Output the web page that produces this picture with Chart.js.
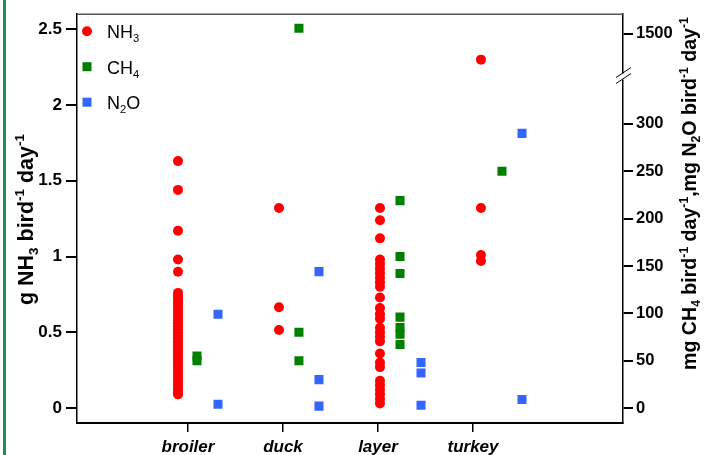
<!DOCTYPE html>
<html>
<head>
<meta charset="utf-8">
<script src="https://cdn.jsdelivr.net/npm/chart.js@4.4.1/dist/chart.umd.min.js"></script>
<style>
  html, body { margin: 0; padding: 0; background: #fff; }
  #wrap { position: relative; width: 708px; height: 455px; }
</style>
</head>
<body>
<div id="wrap"><canvas id="chart"></canvas></div>
<script>
// Categories and tick labels
const categories = ['broiler', 'duck', 'layer', 'turkey'];
const leftTicks = [0, 0.5, 1, 1.5, 2, 2.5];
const rightTicks = [0, 50, 100, 150, 200, 250, 300, 1500];

// x position of each series within a category (category n sits at x = n)
const xNH3 = [0.895, 1.958, 3.021, 4.084];
const xCH4 = [1.095, 2.168, 3.232, 4.305];
const xN2O = [1.316, 2.379, 3.453, 4.516];

// NH3, g per bird per day (left axis)
const nh3Broiler = [1.63, 1.44, 1.17, 0.98, 0.90, 0.76, 0.74, 0.72, 0.70, 0.68, 0.66, 0.64, 0.62,
  0.60, 0.58, 0.56, 0.54, 0.52, 0.50, 0.48, 0.46, 0.44, 0.42, 0.40, 0.38, 0.36, 0.34, 0.32,
  0.30, 0.28, 0.26, 0.24, 0.22, 0.20, 0.18, 0.16, 0.14, 0.12, 0.10, 0.09];
const nh3Duck = [1.32, 0.665, 0.515];
const nh3Layer = [1.32, 1.24, 1.12, 0.98, 0.95, 0.92, 0.89, 0.86, 0.83, 0.80, 0.73, 0.66, 0.62,
  0.59, 0.53, 0.50, 0.47, 0.44, 0.36, 0.30, 0.27, 0.18, 0.15, 0.12, 0.09, 0.06, 0.03];
const nh3Turkey = [2.30, 1.32, 1.01, 0.97];

// CH4, mg per bird per day (right axis)
const ch4Broiler = [55, 50];
const ch4Duck = [1550, 80, 50];
const ch4Layer = [219, 160, 142, 96, 85, 78, 67];
const ch4Turkey = [250];

// N2O, mg per bird per day (right axis)
const n2oBroiler = [99, 4];
const n2oDuck = [144, 30, 2];
const n2oLayer = [48, 37, 3];
const n2oTurkey = [290, 9];

const FONT = 'Arial, "Liberation Sans", Helvetica, sans-serif';
const RED = '#ff0000';
const GREEN = '#008000';
const BLUE = '#3366ff';

// right axis has a break between 300 and 1500
const BREAK_TOP = 300;
const BREAK_VALUE = 1500;
const BREAK_POS = 395;
const BREAK_SLOPE = 0.12;
function toRightAxis(v) {
  return v <= BREAK_TOP ? v : BREAK_POS + (v - BREAK_VALUE) * BREAK_SLOPE;
}

function points(xs, groups, mapY) {
  const out = [];
  groups.forEach((vals, i) => {
    vals.forEach(v => out.push({ x: xs[i], y: mapY ? mapY(v) : v }));
  });
  return out;
}

function setFont(ctx, size, weight) {
  ctx.font = `${weight} ${size}px ${FONT}`;
}

// text with sub/superscripts
function richText(ctx, parts, x, y, size, weight, align) {
  const small = size * 0.62;
  let total = 0;
  const widths = parts.map(p => {
    setFont(ctx, p.sub || p.sup ? small : size, weight);
    const w = ctx.measureText(p.t).width;
    total += w;
    return w;
  });
  let cx = align === 'center' ? x - total / 2 : x;
  ctx.textAlign = 'left';
  ctx.textBaseline = 'alphabetic';
  parts.forEach((p, i) => {
    setFont(ctx, p.sub || p.sup ? small : size, weight);
    const dy = p.sub ? size * 0.22 : (p.sup ? -size * 0.4 : 0);
    ctx.fillText(p.t, cx, y + dy);
    cx += widths[i];
  });
}

const leftTitle = [{ t: 'g NH' }, { t: '3', sub: true }, { t: ' bird' }, { t: '-1', sup: true },
  { t: ' day' }, { t: '-1', sup: true }];
const rightTitle = [{ t: 'mg CH' }, { t: '4', sub: true }, { t: ' bird' }, { t: '-1', sup: true },
  { t: ' day' }, { t: '-1', sup: true }, { t: ',mg N' }, { t: '2', sub: true }, { t: 'O bird' },
  { t: '-1', sup: true }, { t: ' day' }, { t: '-1', sup: true }];
const legendItems = [
  [{ t: 'NH' }, { t: '3', sub: true }],
  [{ t: 'CH' }, { t: '4', sub: true }],
  [{ t: 'N' }, { t: '2', sub: true }, { t: 'O' }]
];

const decorPlugin = {
  id: 'decor',
  beforeDraw(chart) {
    const ctx = chart.ctx;
    ctx.save();
    ctx.fillStyle = '#fff';
    ctx.fillRect(0, 0, chart.width, chart.height);
    ctx.restore();
  },
  afterDraw(chart) {
    const ctx = chart.ctx;
    const area = chart.chartArea;
    ctx.save();

    // green bar at the left edge
    ctx.fillStyle = '#23894f';
    ctx.fillRect(3, 0, 3, chart.height);

    // top frame line
    ctx.strokeStyle = '#555';
    ctx.lineWidth = 1.5;
    ctx.beginPath();
    ctx.moveTo(area.left, area.top);
    ctx.lineTo(area.right, area.top);
    ctx.stroke();

    // axis break on the right axis
    const yb = chart.scales.y2.getPixelForValue(350);
    const r = area.right;
    ctx.fillStyle = '#fff';
    ctx.fillRect(r - 3, yb - 3, 6, 6);
    ctx.strokeStyle = '#000';
    ctx.lineWidth = 1;
    ctx.beginPath();
    ctx.moveTo(r - 7, yb + 1); ctx.lineTo(r + 8, yb - 9);
    ctx.moveTo(r - 7, yb + 7); ctx.lineTo(r + 8, yb - 3);
    ctx.stroke();

    // legend
    const ds = chart.data.datasets;
    legendItems.forEach((parts, i) => {
      const cy = area.top + 17 + i * 35.5;
      const cx = area.left + 10;
      ctx.fillStyle = ds[i].backgroundColor;
      if (ds[i].pointStyle === 'circle') {
        ctx.beginPath();
        ctx.arc(cx, cy, 5, 0, Math.PI * 2);
        ctx.fill();
      } else {
        ctx.fillRect(cx - 4.5, cy - 4.5, 9, 9);
      }
      ctx.fillStyle = '#000';
      richText(ctx, parts, area.left + 30, cy + 7, 18, 'normal', 'left');
    });

    // axis titles
    ctx.fillStyle = '#000';
    ctx.save();
    ctx.translate(33, (area.top + area.bottom) / 2 + 1);
    ctx.rotate(-Math.PI / 2);
    richText(ctx, leftTitle, 0, 0, 21.5, 'bold', 'center');
    ctx.restore();

    ctx.save();
    ctx.translate(696, (area.top + area.bottom) / 2 - 25);
    ctx.rotate(-Math.PI / 2);
    richText(ctx, rightTitle, 0, 0, 19.6, 'bold', 'center');
    ctx.restore();

    ctx.restore();
  }
};

const axisGrid = { drawOnChartArea: false, drawTicks: true, tickLength: 11, color: '#000', lineWidth: 2 };
const axisBorder = { display: true, color: '#000', width: 1.5 };

new Chart(document.getElementById('chart'), {
  type: 'scatter',
  data: {
    datasets: [
      {
        label: 'NH3',
        data: points(xNH3, [nh3Broiler, nh3Duck, nh3Layer, nh3Turkey]),
        yAxisID: 'y',
        pointStyle: 'circle',
        pointRadius: 5,
        pointBorderWidth: 0,
        backgroundColor: RED,
        borderColor: RED
      },
      {
        label: 'CH4',
        data: points(xCH4, [ch4Broiler, ch4Duck, ch4Layer, ch4Turkey], toRightAxis),
        yAxisID: 'y2',
        pointStyle: 'rect',
        pointRadius: 6.4,
        pointBorderWidth: 0,
        backgroundColor: GREEN,
        borderColor: GREEN
      },
      {
        label: 'N2O',
        data: points(xN2O, [n2oBroiler, n2oDuck, n2oLayer, n2oTurkey], toRightAxis),
        yAxisID: 'y2',
        pointStyle: 'rect',
        pointRadius: 6.4,
        pointBorderWidth: 0,
        backgroundColor: BLUE,
        borderColor: BLUE
      }
    ]
  },
  options: {
    responsive: true,
    maintainAspectRatio: false,
    animation: false,
    events: [],
    layout: { padding: { left: 0, right: 0, top: 13, bottom: 0 } },
    plugins: {
      legend: { display: false },
      tooltip: { enabled: false }
    },
    scales: {
      x: {
        type: 'linear',
        min: -0.168,
        max: 5.579,
        afterBuildTicks: scale => { scale.ticks = categories.map((c, i) => ({ value: i + 1 })); },
        afterFit: scale => { scale.height = 32; },
        ticks: {
          autoSkip: false,
          maxRotation: 0,
          padding: 5,
          color: '#000',
          font: { family: FONT, size: 17, weight: 'bold', style: 'italic' },
          callback: v => categories[v - 1]
        },
        grid: { ...axisGrid, tickLength: 9, lineWidth: 1.5 },
        border: { ...axisBorder, width: 2 }
      },
      y: {
        position: 'left',
        min: -0.099,
        max: 2.6,
        afterBuildTicks: scale => { scale.ticks = leftTicks.map(v => ({ value: v })); },
        afterFit: scale => { scale.width = 77; },
        ticks: {
          padding: 4,
          color: '#000',
          font: { family: FONT, size: 17, weight: 'bold' },
          callback: v => String(v)
        },
        grid: axisGrid,
        border: axisBorder
      },
      y2: {
        position: 'right',
        min: -15.8,
        max: 415.8,
        afterBuildTicks: scale => { scale.ticks = rightTicks.map(v => ({ value: toRightAxis(v) })); },
        afterFit: scale => { scale.width = 85; },
        ticks: {
          padding: 3,
          color: '#000',
          font: { family: FONT, size: 16.5, weight: 'bold' },
          callback: v => (v === toRightAxis(BREAK_VALUE) ? String(BREAK_VALUE) : String(v))
        },
        grid: { ...axisGrid, tickLength: 10 },
        border: axisBorder
      }
    }
  },
  plugins: [decorPlugin]
});
</script>
</body>
</html>
